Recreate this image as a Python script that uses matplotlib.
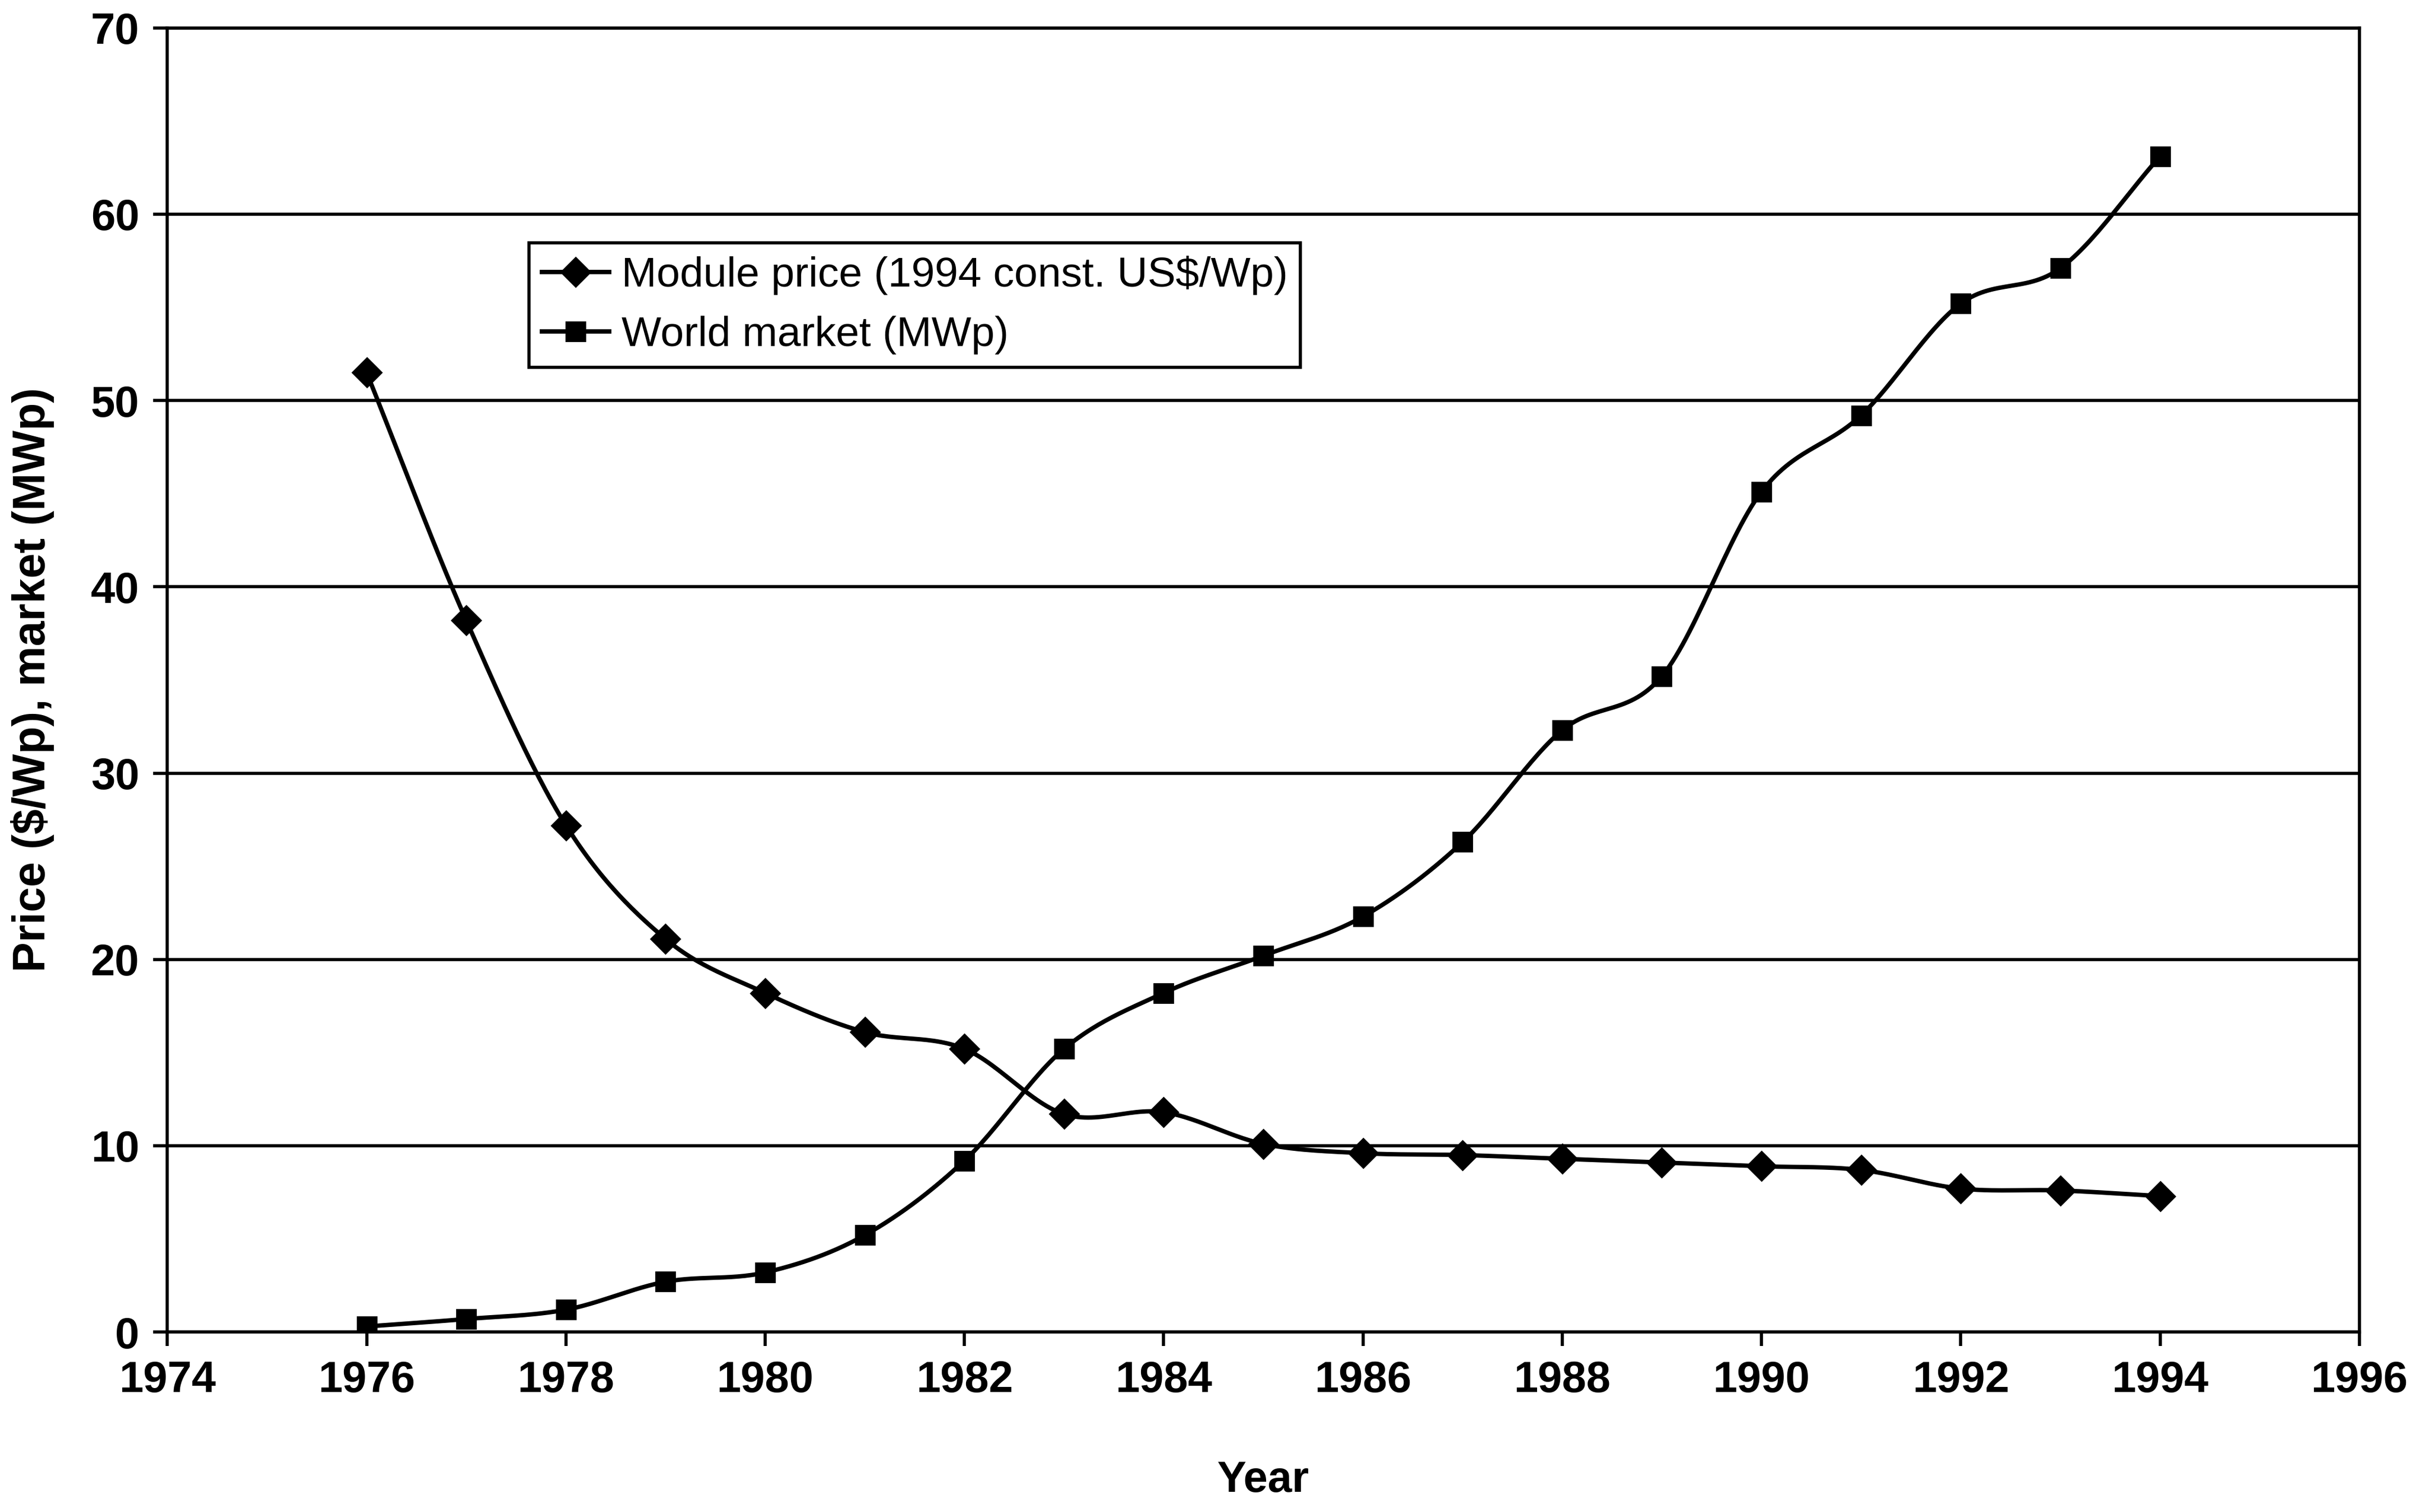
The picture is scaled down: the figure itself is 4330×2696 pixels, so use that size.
import numpy as np
import matplotlib
matplotlib.use("Agg")
import matplotlib.pyplot as plt

plt.rcParams['font.family'] = ['Liberation Sans', 'DejaVu Sans']

years = [1976, 1977, 1978, 1979, 1980, 1981, 1982, 1983, 1984, 1985,
         1986, 1987, 1988, 1989, 1990, 1991, 1992, 1993, 1994]
module_price = [51.5, 38.2, 27.2, 21.1, 18.2, 16.1, 15.2, 11.7, 11.8, 10.1,
                9.6, 9.5, 9.3, 9.1, 8.9, 8.7, 7.7, 7.6, 7.3]
world_market = [0.3, 0.7, 1.2, 2.7, 3.2, 5.2, 9.2, 15.2, 18.2, 20.2,
                22.3, 26.3, 32.3, 35.2, 45.1, 49.2, 55.2, 57.1, 63.1]
price_label = "Module price (1994 const. US$/Wp)"
market_label = "World market (MWp)"


def smooth(x, y, n=30):
    # Catmull-Rom curve through the points, like the spreadsheet's smoothed line
    x = np.asarray(x, float)
    y = np.asarray(y, float)
    px = np.concatenate([[2 * x[0] - x[1]], x, [2 * x[-1] - x[-2]]])
    py = np.concatenate([[2 * y[0] - y[1]], y, [2 * y[-1] - y[-2]]])
    t = np.linspace(0, 1, n)
    xs, ys = [], []
    for i in range(1, len(px) - 2):
        for p, out in ((px, xs), (py, ys)):
            p0, p1, p2, p3 = p[i - 1], p[i], p[i + 1], p[i + 2]
            out.append(0.5 * (2 * p1 + (-p0 + p2) * t
                              + (2 * p0 - 5 * p1 + 4 * p2 - p3) * t ** 2
                              + (-p0 + 3 * p1 - 3 * p2 + p3) * t ** 3))
    return np.concatenate(xs), np.concatenate(ys)


fig = plt.figure(figsize=(21.65, 13.48), dpi=200)
ax = fig.add_axes([0.0689, 0.119, 0.9024, 0.8626])

for yv, marker, label in ((module_price, 'D', price_label),
                          (world_market, 's', market_label)):
    ms = 12 if marker == 's' else 13
    sx, sy = smooth(years, yv)
    ax.plot(sx, sy, color='black', lw=2.8, zorder=3)
    ax.plot(years, yv, linestyle='none', marker=marker, color='black',
            markersize=ms, zorder=4)
    ax.plot([], [], color='black', lw=2.8, marker=marker,
            markersize=ms, label=label)

ax.set_xlim(1974, 1996)
ax.set_ylim(0, 70)
ax.set_xticks(range(1974, 1997, 2))
ax.set_yticks(range(0, 71, 10))
ax.yaxis.grid(True, color='black', lw=2.0)
ax.set_axisbelow(True)

for s in ax.spines.values():
    s.set_color('black')
    s.set_linewidth(2.0)

ax.tick_params(axis='both', direction='out', length=9, width=2.0,
               labelsize=28, pad=9)
for lab in ax.get_xticklabels() + ax.get_yticklabels():
    lab.set_fontweight('bold')

ax.set_xlabel("Year", fontsize=28, fontweight='bold')
ax.xaxis.set_label_coords(0.5, -0.098)
ax.set_ylabel("Price ($/Wp), market (MWp)", fontsize=29, fontweight='bold')
ax.yaxis.set_label_coords(-0.0516, 0.5)

leg = ax.legend(loc='upper left', bbox_to_anchor=(0.165, 0.835),
                fontsize=27, frameon=True, fancybox=False,
                handlelength=1.6, handletextpad=0.3, borderpad=0.3,
                labelspacing=0.5, borderaxespad=0)
leg.get_frame().set_edgecolor('black')
leg.get_frame().set_linewidth(2.0)
leg.get_frame().set_alpha(1)

fig.savefig("out.png", dpi=200, facecolor='white')
